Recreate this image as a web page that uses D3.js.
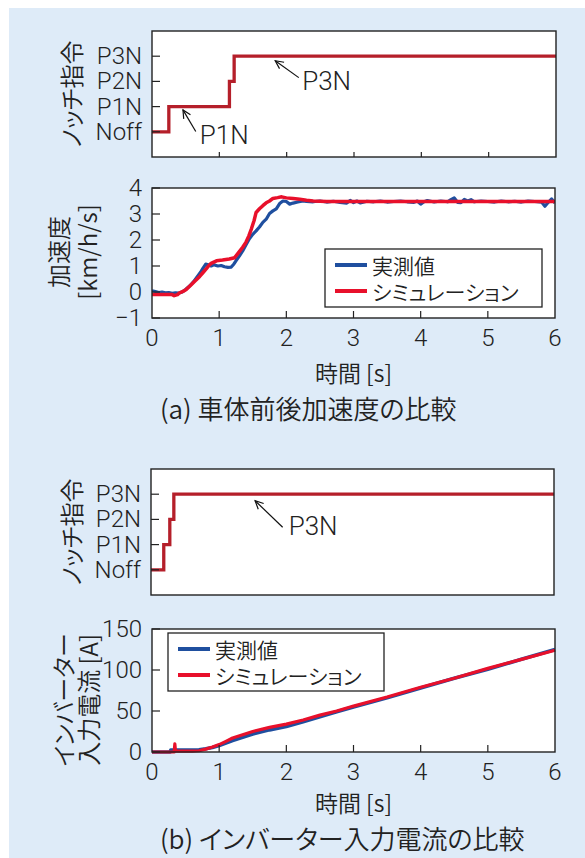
<!DOCTYPE html>
<html>
<head>
<meta charset="utf-8">
<script src="https://cdn.jsdelivr.net/npm/d3@7"></script>
<style>
  html, body { margin: 0; padding: 0; background: #ffffff; }
  svg { display: block; }
  .lat { font-family: Roboto, "Liberation Sans", sans-serif; font-weight: 300; fill: #222; }
  .jp { font-family: "Noto Sans CJK JP", sans-serif; font-weight: 350; fill: #222; font-feature-settings: "palt"; }
</style>
</head>
<body>
<svg id="chart" width="585" height="858"></svg>
<script>
// ---- data ----
const notchLabels = ["Noff", "P1N", "P2N", "P3N"];
const notchLevels = [0, 1, 2, 3];

// notch command steps (time [s], level)
const notchA_t = [0, 0.25, 1.15, 1.22, 6];
const notchA_v = [0, 1, 2, 3, 3];
const notchB_t = [0, 0.19, 0.28, 0.34, 6];
const notchB_v = [0, 1, 2, 3, 3];

const timeTicks = [0, 1, 2, 3, 4, 5, 6];
const accelTicks = [-1, 0, 1, 2, 3, 4];
const currentTicks = [0, 50, 100, 150];

// longitudinal acceleration [km/h/s]
const accelMeas_t = [0, 0.05, 0.1, 0.15, 0.2, 0.25, 0.3, 0.35, 0.4, 0.45, 0.5, 0.56, 0.62, 0.66, 0.72, 0.76, 0.8,
  0.84, 0.88, 0.92, 0.98, 1.03, 1.08, 1.13, 1.18, 1.22, 1.25, 1.3, 1.35, 1.4, 1.45, 1.5, 1.55, 1.6, 1.65, 1.7,
  1.75, 1.8, 1.85, 1.9, 1.95, 2.0, 2.05, 2.1, 2.17, 2.25, 2.3, 2.4, 2.5, 2.6, 2.7, 2.8, 2.9, 2.95, 3.0, 3.05,
  3.1, 3.2, 3.3, 3.4, 3.5, 3.6, 3.7, 3.8, 3.9, 3.95, 4.0, 4.05, 4.1, 4.2, 4.3, 4.4, 4.45, 4.5, 4.55, 4.6, 4.65,
  4.7, 4.75, 4.8, 4.9, 5.0, 5.1, 5.2, 5.3, 5.4, 5.5, 5.6, 5.7, 5.8, 5.85, 5.9, 5.95, 6.0];
const accelMeas_v = [0.05, 0.02, -0.02, 0.0, -0.03, -0.02, -0.05, -0.03, -0.04, 0.0, 0.1, 0.23, 0.4, 0.54, 0.75, 0.92, 1.07,
  1.05, 1.0, 1.05, 1.0, 1.02, 0.97, 0.95, 0.96, 1.08, 1.2, 1.38, 1.58, 1.82, 2.05, 2.22, 2.35, 2.5, 2.68, 2.8,
  3.02, 3.12, 3.2, 3.4, 3.5, 3.48, 3.38, 3.42, 3.46, 3.5, 3.48, 3.47, 3.5, 3.46, 3.49, 3.45, 3.42, 3.52, 3.44, 3.5,
  3.43, 3.49, 3.47, 3.5, 3.46, 3.48, 3.5, 3.47, 3.45, 3.5, 3.38, 3.47, 3.52, 3.46, 3.5, 3.47, 3.55, 3.62, 3.45, 3.44, 3.56,
  3.5, 3.55, 3.47, 3.5, 3.48, 3.46, 3.5, 3.47, 3.49, 3.46, 3.5, 3.48, 3.46, 3.3, 3.45, 3.58, 3.42];

const accelSim_t = [0, 0.3, 0.33, 0.38, 0.41, 0.46, 0.51, 0.56, 0.61, 0.66, 0.71, 0.76, 0.81, 0.85, 0.88, 0.92, 0.96,
  1.05, 1.15, 1.23, 1.3, 1.35, 1.4, 1.44, 1.48, 1.52, 1.55, 1.6, 1.65, 1.7, 1.75, 1.8, 1.87, 1.93, 2.0, 2.1, 2.2,
  2.3, 2.4, 2.6, 6.0];
const accelSim_v = [-0.1, -0.1, -0.14, -0.1, -0.03, 0.02, 0.1, 0.22, 0.35, 0.47, 0.6, 0.75, 0.9, 1.03, 1.1, 1.15, 1.2,
  1.23, 1.27, 1.32, 1.55, 1.72, 1.92, 2.15, 2.43, 2.75, 3.06, 3.2, 3.32, 3.43, 3.5, 3.6, 3.63, 3.66, 3.62, 3.6, 3.57,
  3.53, 3.5, 3.48, 3.48];

// inverter input current [A]
const currentMeas_t = [0, 0.27, 0.28, 0.6, 0.7, 0.8, 0.9, 1.0, 1.1, 1.2, 1.35, 1.5, 1.75, 2.0, 2.25, 2.5, 2.75, 3.0,
  3.5, 4.0, 4.5, 5.0, 5.5, 6.0];
const currentMeas_v = [0, 0, 2.5, 2.5, 2.8, 4, 5.5, 8, 11, 14, 18, 22, 27, 31, 37, 43, 49, 55, 66, 78, 90, 101, 113, 125];
const currentSim_t = [0, 0.33, 0.34, 0.35, 0.6, 0.7, 0.8, 0.9, 1.0, 1.1, 1.2, 1.35, 1.5, 1.75, 2.0, 2.25, 2.5, 2.75,
  3.0, 3.5, 4.0, 4.5, 5.0, 5.5, 6.0];
const currentSim_v = [0, 0, 10, 1, 1, 1.5, 3.5, 6, 9, 13, 17, 21, 25, 30, 34, 39, 45, 50, 56, 67, 79, 90, 102, 113, 124];

const seriesNames = ["実測値", "シミュレーション"];

// annotation arrows on the notch panels: text, tip (t, level), tail (t, level), text anchor (t, level)
const annoA = [
  { text: "P3N", tip: [1.83, 2.82], tail: [2.18, 2.15], at: [2.23, 1.66] },
  { text: "P1N", tip: [0.46, 0.87], tail: [0.65, 0.01], at: [0.71, -0.48] }
];
const annoB = [
  { text: "P3N", tip: [1.55, 2.74], tail: [1.96, 1.69], at: [2.05, 1.39] }
];

// ---- styling ----
const COL_BG = "#deebf8";
const COL_NOTCH = "#b51f2a";
const COL_SIM = "#e8102b";
const COL_MEAS = "#1f4f9f";
const COL_AXIS = "#222";

const svg = d3.select("#chart");
svg.append("rect").attr("x", 9).attr("y", 8).attr("width", 576).attr("height", 850).attr("fill", COL_BG);

function zip(ts, vs) { return ts.map((t, i) => [t, vs[i]]); }

function panel(box) {
  const g = svg.append("g");
  g.append("rect").attr("x", box.l).attr("y", box.t)
    .attr("width", box.r - box.l).attr("height", box.b - box.t)
    .attr("fill", "#fff");
  return g;
}
function frame(g, box) {
  g.append("rect").attr("x", box.l).attr("y", box.t)
    .attr("width", box.r - box.l).attr("height", box.b - box.t)
    .attr("fill", "none").attr("stroke", COL_AXIS).attr("stroke-width", 1.4);
}

function yTickMarks(g, x, y, ticks, len, labels) {
  ticks.forEach((v, i) => {
    g.append("line").attr("x1", x.range()[0]).attr("x2", x.range()[0] + len)
      .attr("y1", y(v)).attr("y2", y(v)).attr("stroke", COL_AXIS).attr("stroke-width", 1.2);
    g.append("text").attr("class", "lat").attr("x", x.range()[0] - 10).attr("y", y(v))
      .attr("text-anchor", "end").attr("dominant-baseline", "central")
      .attr("font-size", 24).text(labels ? labels[i] : (v < 0 ? "\u2212" + Math.abs(v) : v));
  });
}
function xTickMarks(g, x, y, ticks, len, withLabels) {
  ticks.forEach(v => {
    if (v !== ticks[0] && v !== ticks[ticks.length - 1]) {
      g.append("line").attr("x1", x(v)).attr("x2", x(v))
        .attr("y1", y.range()[0]).attr("y2", y.range()[0] - len)
        .attr("stroke", COL_AXIS).attr("stroke-width", 1.2);
    }
    if (withLabels) {
      g.append("text").attr("class", "lat").attr("x", x(v)).attr("y", y.range()[0] + 20)
        .attr("text-anchor", "middle").attr("dominant-baseline", "central")
        .attr("font-size", 24).text(v);
    }
  });
}

function rotTitle(lines, xs, cy) {
  lines.forEach((s, i) => {
    svg.append("text").attr("class", "jp")
      .attr("transform", `translate(${xs[i]},${cy}) rotate(-90)`)
      .attr("text-anchor", "middle").attr("dominant-baseline", "central")
      .attr("font-size", 24).text(s);
  });
}

function arrow(g, x, y, a) {
  const x1 = x(a.tail[0]), y1 = y(a.tail[1]), x2 = x(a.tip[0]), y2 = y(a.tip[1]);
  const ang = Math.atan2(y1 - y2, x1 - x2), hl = 9, spread = 0.45;
  g.append("line").attr("x1", x1).attr("y1", y1).attr("x2", x2).attr("y2", y2)
    .attr("stroke", "#111").attr("stroke-width", 1.2);
  g.append("path")
    .attr("d", `M${x2 + hl * Math.cos(ang + spread)},${y2 + hl * Math.sin(ang + spread)}L${x2},${y2}L${x2 + hl * Math.cos(ang - spread)},${y2 + hl * Math.sin(ang - spread)}`)
    .attr("fill", "none").attr("stroke", "#111").attr("stroke-width", 1.2);
  g.append("text").attr("class", "lat").attr("x", x(a.at[0])).attr("y", y(a.at[1]))
    .attr("font-size", 26).text(a.text);
}

function legend(g, bx, by, bw, bh) {
  g.append("rect").attr("x", bx).attr("y", by).attr("width", bw).attr("height", bh)
    .attr("fill", "#fff").attr("stroke", COL_AXIS).attr("stroke-width", 1.3);
  [COL_MEAS, COL_SIM].forEach((c, i) => {
    const cy = by + 16 + i * 26;
    g.append("line").attr("x1", bx + 10).attr("x2", bx + 42).attr("y1", cy).attr("y2", cy)
      .attr("stroke", c).attr("stroke-width", 4);
    g.append("text").attr("class", "jp").attr("x", bx + 47).attr("y", cy)
      .attr("dominant-baseline", "central").attr("font-size", 21).text(seriesNames[i]);
  });
}

// ---- (a) notch command ----
{
  const box = { l: 152, r: 556, t: 31, b: 157 };
  const x = d3.scaleLinear().domain([0, 6]).range([box.l, box.r]);
  const y = d3.scaleLinear().domain([-1, 4]).range([box.b, box.t]);
  const g = panel(box);
  g.append("path").datum(zip(notchA_t, notchA_v))
    .attr("d", d3.line().x(d => x(d[0])).y(d => y(d[1])).curve(d3.curveStepAfter))
    .attr("fill", "none").attr("stroke", COL_NOTCH).attr("stroke-width", 3.3);
  frame(g, box);
  yTickMarks(g, x, y, notchLevels, 8, notchLabels);
  xTickMarks(g, x, y, timeTicks, 5, false);
  annoA.forEach(a => arrow(g, x, y, a));
  rotTitle(["ノッチ指令"], [70], (box.t + box.b) / 2);
}

// ---- (a) acceleration ----
{
  const box = { l: 152, r: 555, t: 188, b: 318 };
  const x = d3.scaleLinear().domain([0, 6]).range([box.l, box.r]);
  const y = d3.scaleLinear().domain([-1, 4]).range([box.b, box.t]);
  const g = panel(box);
  const clipId = "clipAcc";
  g.append("clipPath").attr("id", clipId).append("rect")
    .attr("x", box.l).attr("y", box.t).attr("width", box.r - box.l).attr("height", box.b - box.t);
  const line = d3.line().x(d => x(d[0])).y(d => y(d[1]));
  g.append("path").datum(zip(accelMeas_t, accelMeas_v)).attr("d", line)
    .attr("clip-path", `url(#${clipId})`)
    .attr("fill", "none").attr("stroke", COL_MEAS).attr("stroke-width", 3.2).attr("stroke-linejoin", "round");
  g.append("path").datum(zip(accelSim_t, accelSim_v)).attr("d", line)
    .attr("clip-path", `url(#${clipId})`)
    .attr("fill", "none").attr("stroke", COL_SIM).attr("stroke-width", 3.5).attr("stroke-linejoin", "round");
  frame(g, box);
  yTickMarks(g, x, y, accelTicks, 8);
  xTickMarks(g, x, y, timeTicks, 7, true);
  legend(g, 325, 249, 217, 58);
  rotTitle(["加速度", "[km/h/s]"], [57, 86], 252);
  svg.append("text").attr("class", "jp").attr("x", (box.l + box.r) / 2).attr("y", 372)
    .attr("text-anchor", "middle").attr("dominant-baseline", "central").attr("font-size", 23).text("時間 [s]");
  svg.append("text").attr("class", "jp").attr("x", 160).attr("y", 407)
    .attr("dominant-baseline", "central").attr("font-size", 26).text("(a) 車体前後加速度の比較");
}

// ---- (b) notch command ----
{
  const box = { l: 151, r: 554, t: 469, b: 595 };
  const x = d3.scaleLinear().domain([0, 6]).range([box.l, box.r]);
  const y = d3.scaleLinear().domain([-1, 4]).range([box.b, box.t]);
  const g = panel(box);
  g.append("path").datum(zip(notchB_t, notchB_v))
    .attr("d", d3.line().x(d => x(d[0])).y(d => y(d[1])).curve(d3.curveStepAfter))
    .attr("fill", "none").attr("stroke", COL_NOTCH).attr("stroke-width", 3.3);
  frame(g, box);
  yTickMarks(g, x, y, notchLevels, 8, notchLabels);
  annoB.forEach(a => arrow(g, x, y, a));
  rotTitle(["ノッチ指令"], [70], (box.t + box.b) / 2);
}

// ---- (b) inverter input current ----
{
  const box = { l: 152, r: 555, t: 629, b: 752 };
  const x = d3.scaleLinear().domain([0, 6]).range([box.l, box.r]);
  const y = d3.scaleLinear().domain([0, 150]).range([box.b, box.t]);
  const g = panel(box);
  const line = d3.line().x(d => x(d[0])).y(d => y(d[1]));
  g.append("path").datum(zip(currentMeas_t, currentMeas_v)).attr("d", line)
    .attr("fill", "none").attr("stroke", COL_MEAS).attr("stroke-width", 3.6).attr("stroke-linejoin", "round");
  g.append("path").datum(zip(currentSim_t, currentSim_v)).attr("d", line)
    .attr("fill", "none").attr("stroke", COL_SIM).attr("stroke-width", 3.2).attr("stroke-linejoin", "round");
  frame(g, box);
  yTickMarks(g, x, y, currentTicks, 8);
  xTickMarks(g, x, y, timeTicks, 7, true);
  legend(g, 168, 633, 216, 58);
  rotTitle(["インバーター", "入力電流 [A]"], [62, 87], 700);
  svg.append("text").attr("class", "jp").attr("x", (box.l + box.r) / 2).attr("y", 802)
    .attr("text-anchor", "middle").attr("dominant-baseline", "central").attr("font-size", 23).text("時間 [s]");
  svg.append("text").attr("class", "jp").attr("x", 160).attr("y", 837)
    .attr("dominant-baseline", "central").attr("font-size", 26).text("(b) インバーター入力電流の比較");
}
</script>
</body>
</html>
